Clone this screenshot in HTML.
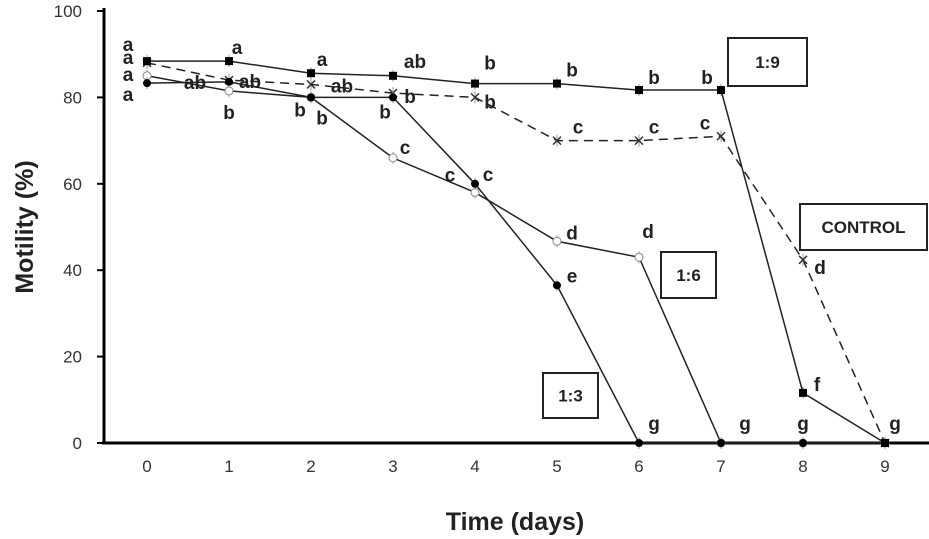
<!DOCTYPE html>
<html><head><meta charset="utf-8"><style>
body{margin:0;background:#fff}
svg{display:block;font-family:"Liberation Sans",sans-serif}
</style></head><body>
<svg id="chart" width="929" height="539" viewBox="0 0 929 539" xmlns="http://www.w3.org/2000/svg"></svg>
<script>
const days=[0,1,2,3,4,5,6,7,8,9];
const yTicks=[0,20,40,60,80,100];
const s19=[88.4,88.4,85.6,85,83.2,83.2,81.7,81.7,11.6,0];
const sCtrl=[88,84,83,81,80,70,70,71,42.4,0];
const s16=[85,81.5,80,66,58,46.7,43,0,0,0];
const s13=[83.3,83.6,80,80,60,36.5,0,0,0,0];
// significance letters
const letterSeries=["s19","s19","s19","s19","s19","sCtrl","sCtrl","s16","s19","sCtrl","s13","s13","s19","sCtrl","s13","s16","s19","sCtrl","s16","s13","s19","sCtrl","s16","s13","s19","sCtrl","s16","s13","s19","sCtrl","s16","sCtrl","s19","s13","s19"];
const letterDays=[0,0,0,0,1,1,1,1,2,2,2,2,3,3,3,3,4,4,4,4,5,5,5,5,6,6,6,6,7,7,7,8,8,8,9];
const letterText=["a","a","a","a","a","ab","ab","b","a","ab","b","b","ab","b","b","c","b","b","c","c","b","c","d","e","b","c","d","g","b","c","g","d","f","g","g"];
const NS="http://www.w3.org/2000/svg";
const svg=document.getElementById('chart');
const X=d=>147+d*82;
const Y=v=>443-v*4.32;
function el(t,a,p){const e=document.createElementNS(NS,t);for(const k in a)e.setAttribute(k,a[k]);(p||svg).appendChild(e);return e;}
let e=el('line',{x1:104,y1:8,x2:104,y2:443,stroke:'#000','stroke-width':3});


e=el('line',{x1:102,y1:443,x2:929,y2:443,stroke:'#000','stroke-width':3});


yTicks.forEach(v=>{
  el('line',{x1:97,y1:Y(v),x2:104,y2:Y(v),stroke:'#000','stroke-width':2});
  const t=el('text',{x:82,y:Y(v)+6,'text-anchor':'end','font-size':17,fill:'#333'});t.textContent=v;
  
  
});
days.forEach(d=>{
  const t=el('text',{x:X(d),y:472,'text-anchor':'middle','font-size':17,fill:'#333'});t.textContent=d;
  
  
});
let t=el('text',{x:515,y:530,'text-anchor':'middle','font-size':25,'font-weight':'bold',fill:'#222'});t.textContent='Time (days)';


t=el('text',{x:0,y:0,transform:'translate(33,227) rotate(-90)','text-anchor':'middle','font-size':25,'font-weight':'bold',fill:'#222'});t.textContent='Motility (%)';


function series(vals,name,dash,marker){
  const g=el('g',{});
  
  
  const pts=vals.map((v,i)=>X(days[i])+','+Y(v)).join(' ');
  el('polyline',{points:pts,fill:'none',stroke:'#222','stroke-width':1.5,'stroke-dasharray':dash||''},g);
  vals.forEach((v,i)=>{
    const x=X(days[i]),y=Y(v);let m;
    el('line',{x1:x,y1:y-6,x2:x,y2:y+6,stroke:'#999','stroke-width':1},g);
    if(marker==='sq')m=el('rect',{x:x-4,y:y-4,width:8,height:8,fill:'#000'},g);
    else if(marker==='fc')m=el('circle',{cx:x,cy:y,r:4,fill:'#000'},g);
    else if(marker==='oc')m=el('circle',{cx:x,cy:y,r:4,fill:'#fff',stroke:'#888'},g);
    else m=el('path',{d:`M${x-4} ${y-4}L${x+4} ${y+4}M${x+4} ${y-4}L${x-4} ${y+4}`,stroke:'#333','stroke-width':1.5},g);
    
    
  });
}
series(sCtrl,'control','9,6','x');
series(s16,'1-6','', 'oc');
series(s13,'1-3','', 'fc');
series(s19,'1-9','', 'sq');
const seriesMap={s19,sCtrl,s16,s13};
// label offsets (styling) relative to referenced point
const offs=[[-19,-16],[-19,-3],[-19,14],[-19,34],[8,-13],[-34,3],[21,2],[0,22],[11,-13],[31,2],[-11,13],[11,21],[22,-14],[17,4],[-8,15],[12,-10],[15,-20],[15,5],[-25,-17],[13,-9],[15,-13],[21,-13],[15,-8],[15,-9],[15,-12],[15,-13],[9,-25],[15,-19],[-14,-12],[-16,-13],[24,-19],[17,8],[14,-8],[0,-19],[10,-19]];
letterText.forEach((l,i)=>{
  const v=seriesMap[letterSeries[i]][letterDays[i]];
  const o=offs[i];
  const t=el('text',{x:X(letterDays[i])+o[0],y:Y(v)+o[1]+6,'text-anchor':'middle','font-size':19,'font-weight':'bold',fill:'#222'});
  t.textContent=l;
  
  
});
function box(x,y,w,h,label){
  const g=el('g',{});
  
  
  el('rect',{x,y,width:w,height:h,fill:'#fff',stroke:'#222','stroke-width':2},g);
  const t=el('text',{x:x+w/2,y:y+h/2+6,'text-anchor':'middle','font-size':17,'font-weight':'bold',fill:'#222'},g);t.textContent=label;
}
box(728,38,79,48,'1:9');
box(800,204,127,46,'CONTROL');
box(661,252,55,46,'1:6');
box(543,373,55,45,'1:3');
</script>
</body></html>
